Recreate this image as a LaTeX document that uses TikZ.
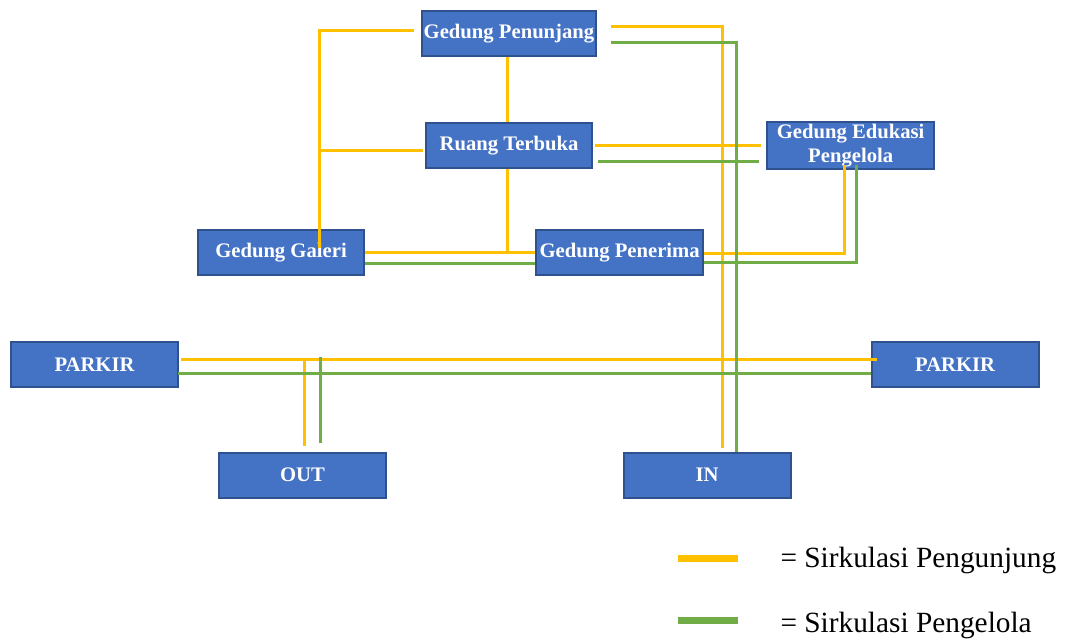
\documentclass[tikz,border=0pt]{standalone}
\usepackage{fontspec}
\setmainfont{Liberation Serif}
\usetikzlibrary{positioning}
\definecolor{bldgfill}{HTML}{4472C4}
\definecolor{bldgedge}{HTML}{2F528F}
\definecolor{pengunjung}{HTML}{FFC000}
\definecolor{pengelola}{HTML}{70AD47}

\begin{document}
\begin{tikzpicture}[x=0.75pt,y=-0.75pt,
    bldg/.style={draw=bldgedge, fill=bldgfill, line width=1.5pt, minimum width=125pt,
      minimum height=33.75pt, inner sep=1pt, text=white, align=center,
      font=\bfseries\fontsize{15.5}{18.5}\selectfont},
    visitor/.style={draw=pengunjung, line width=2.25pt},
    staff/.style={draw=pengelola, line width=2.25pt},
    key/.style={minimum width=45pt, minimum height=5.25pt, inner sep=0pt},
    keytext/.style={inner sep=0pt, font=\fontsize{22}{26}\selectfont}]
  \useasboundingbox (0,0) rectangle (1066,641);

  \node[bldg] (penunjang) at (509,33.5) {Gedung Penunjang};
  \node[bldg] (terbuka) [below = 48.75pt of penunjang] {Ruang Terbuka};
  \node[bldg] (edukasi) [right = 129.75pt of terbuka] {Gedung Edukasi\\Pengelola};
  \node[bldg] (galeri) at (281,253) {Gedung Galeri};
  \node[bldg] (penerima) [right = 127.5pt of galeri] {Gedung Penerima};
  \node[bldg] (parkirL) at (94.5,364.5) {PARKIR};
  \node[bldg] (parkirR) [right = 519pt of parkirL] {PARKIR};
  \node[bldg] (out) at (302.5,475) {OUT};
  \node[bldg] (in) [right = 177pt of out] {IN};

  % sirkulasi pengunjung
  \draw[visitor] ([shift={(-7,-2.5)}]penunjang.west) -| ([shift={(38,19)}]galeri.north) coordinate (gv);
  \draw[visitor] ([shift={(-2,5.5)}]terbuka.west) coordinate (tw) -- (tw -| gv);
  \draw[visitor] ([shift={(-2,0)}]penunjang.south) -- ([shift={(-2,0)}]terbuka.north);
  \draw[visitor] ([shift={(-2,0)}]terbuka.south) -- ([shift={(-2,0)}]terbuka.south |- galeri.east);
  \draw[visitor] (galeri.east) -- (penerima.west);
  \draw[visitor] ([shift={(14,-6.5)}]penunjang.east) -| ([shift={(15,-4)}]in.north);
  \draw[visitor] ([shift={(2,0)}]terbuka.east) -- ([shift={(-5,0)}]edukasi.west);
  \draw[visitor] ([shift={(-6.5,-5)}]edukasi.south) |- ([shift={(0,1)}]penerima.east);
  \draw[visitor] ([shift={(2,-5.5)}]parkirL.east) coordinate (pv) -- ([shift={(6,-5.5)}]parkirR.west);
  \draw[visitor] ([shift={(1.5,-6)}]out.north) coordinate (ov) -- (ov |- pv);

  % sirkulasi pengelola
  \draw[staff] ([shift={(14,9.5)}]penunjang.east) -| ([shift={(29.5,0)}]in.north);
  \draw[staff] ([shift={(5,16.5)}]terbuka.east) -- ([shift={(-7,16.5)}]edukasi.west);
  \draw[staff] ([shift={(0,11)}]galeri.east) coordinate (gs) -- (gs -| penerima.west);
  \draw[staff] ([shift={(5.5,-5)}]edukasi.south) |- ([shift={(0,10)}]penerima.east);
  \draw[staff] ([shift={(-1,8.5)}]parkirL.east) -- ([shift={(0,8.5)}]parkirR.west);
  \draw[staff] ([shift={(17.5,-9)}]out.north) coordinate (os) -- ([shift={(0,-2)}]os |- pv);

  % keterangan
  \node[key, fill=pengunjung] (keyV) at (708,558.5) {};
  \node[keytext] (txtV) [right = 31.5pt of keyV, yshift=-1.5pt] {= Sirkulasi Pengunjung};
  \node[key, fill=pengelola] (keyS) at (708,620.5) {};
  \node[keytext] (txtS) [right = 31.5pt of keyS, yshift=-4pt] {= Sirkulasi Pengelola};
\end{tikzpicture}
\end{document}
